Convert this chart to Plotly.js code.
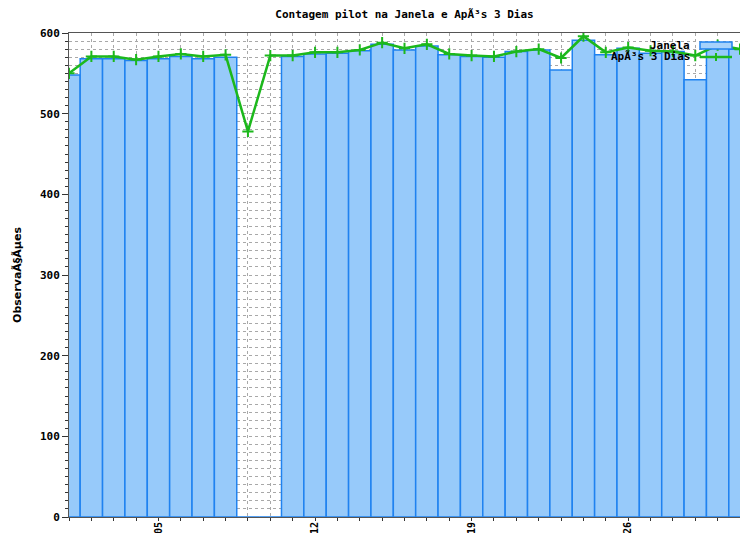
<!DOCTYPE html>
<html>
<head>
<meta charset="utf-8">
<script src="https://cdn.plot.ly/plotly-3.0.1.min.js"></script>
<style>html,body{margin:0;padding:0;background:#fff;}#chart{width:740px;height:533px;}</style>
</head>
<body>
<div id="chart"></div>
<script>
const days = [1,2,3,4,5,6,7,8,9,10,11,12,13,14,15,16,17,18,19,20,21,22,23,24,25,26,27,28,29,30,31];
const janela = [548,568,568,566,568,571,568,570,0,0,571,574,575,578,586,579,584,573,571,570,577,579,554,591,573,581,575,577,542,583,580];
const apos3 = [550,571,571,567,571,574,571,573,478,572,572,576,576,579,588,581,586,574,572,571,577,580,569,596,576,582,578,577,572,585,580];
const xTickVals = [5,12,19,26];
const xTickText = ['05','12','19','26'];
const seriesNames = ['Janela','ApÃ³s 3 Dias'];

const fontMono = {family:'DejaVu Sans Mono', size:11, color:'#000', weight:'bold'};
const gridCol = '#a8a8a8';
const barBlue = '#1f82f0';
const green = '#1cb81c';

const traces = [
  {
    type:'bar', x:days, y:janela, name:seriesNames[0], width:1,
    marker:{color:'#a6d2fb', line:{color:barBlue, width:1.5},
      pattern:{shape:'.', fgcolor:'#4aa2f7', bgcolor:'#d4e9fe', size:2, solidity:0.5}},
    showlegend:false
  },
  {
    type:'scatter', mode:'lines+markers', x:days, y:apos3, name:seriesNames[1],
    line:{color:green, width:2.5},
    marker:{symbol:'cross-thin', size:8, color:green, line:{color:green, width:2}},
    showlegend:false, cliponaxis:true
  }
];

const L = 69, R = 740, T = 33, B = 517;
const px = v => (v - L) / (R - L);
const py = v => (B - v) / (B - T);

const layout = {
  width:740, height:533,
  margin:{l:69, r:0, t:33, b:16, pad:0},
  paper_bgcolor:'#fff', plot_bgcolor:'#fff',
  bargap:0,
  showlegend:false,
  title:{text:'Contagem pilot na Janela e ApÃ³s 3 Dias', font:fontMono,
    xref:'paper', x:0.5, xanchor:'center', yref:'container', y:1-14/533, yanchor:'middle'},
  xaxis:{
    range:[1,31], showline:true, linecolor:'#555', linewidth:1, mirror:true,
    tickmode:'array', tickvals:xTickVals, ticktext:xTickText, tickangle:-90,
    ticks:'outside', ticklen:3, tickcolor:'#333', tickfont:{family:'DejaVu Sans Mono', size:10, color:'#000', weight:'bold'},
    ticklabelstandoff:-3,
    showgrid:true, gridcolor:gridCol, griddash:'dot', gridwidth:1,
    minor:{tickmode:'linear', tick0:0, dtick:1, ticks:'outside', ticklen:3, tickcolor:'#333',
      showgrid:true, gridcolor:gridCol, griddash:'dot', gridwidth:1},
    zeroline:false, automargin:false, fixedrange:true
  },
  yaxis:{
    range:[0,600], showline:true, linecolor:'#555', linewidth:1, mirror:false,
    tickmode:'linear', tick0:0, dtick:100,
    ticks:'outside', ticklen:6, tickcolor:'#333', tickfont:fontMono,
    showgrid:true, gridcolor:gridCol, griddash:'dot', gridwidth:1,
    minor:{tickmode:'linear', tick0:0, dtick:10, ticks:'outside', ticklen:3, tickcolor:'#333',
      showgrid:true, gridcolor:gridCol, griddash:'dot', gridwidth:1},
    zeroline:false, automargin:false, fixedrange:true,
    title:{text:'ObservaÃ§Ãµes', font:{family:'DejaVu Sans', size:11, color:'#000', weight:'bold'}, standoff:16}
  },
  annotations:[
    {xref:'paper', yref:'paper', x:px(692), y:py(45), xanchor:'right', yanchor:'middle',
     text:seriesNames[0], showarrow:false, font:fontMono},
    {xref:'paper', yref:'paper', x:px(692), y:py(57), xanchor:'right', yanchor:'middle',
     text:seriesNames[1], showarrow:false, font:fontMono}
  ],
  shapes:[
    {type:'rect', xref:'paper', yref:'paper', x0:px(700), x1:px(732), y0:py(49), y1:py(42),
     fillcolor:'#a6d2fb', line:{color:barBlue, width:1.5}, layer:'above'},
    {type:'line', xref:'paper', yref:'paper', x0:px(700), x1:px(732), y0:py(57), y1:py(57),
     line:{color:green, width:2.5}, layer:'above'},
    {type:'line', xref:'paper', yref:'paper', x0:px(716), x1:px(716), y0:py(61), y1:py(53),
     line:{color:green, width:2}, layer:'above'}
  ]
};

Plotly.newPlot('chart', traces, layout, {displayModeBar:false, staticPlot:true});
</script>
</body>
</html>
